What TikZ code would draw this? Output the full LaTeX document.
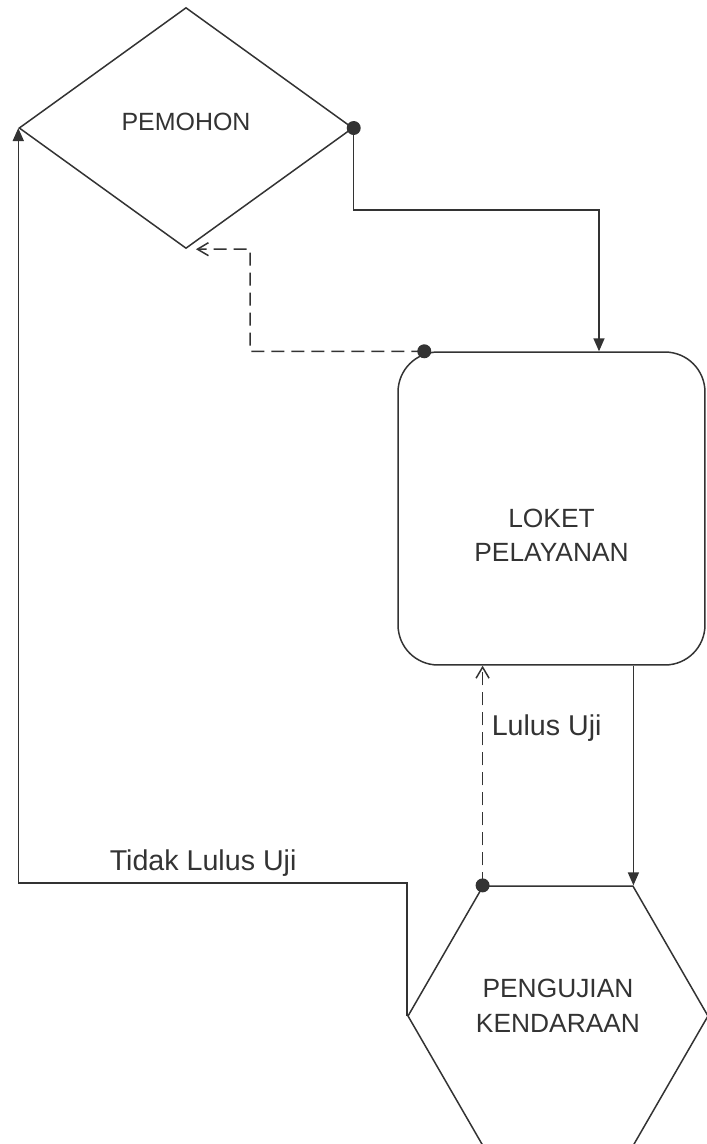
\documentclass[tikz,border=0pt]{standalone}
\usepackage{fontspec}
\setmainfont{Liberation Sans}
\usetikzlibrary{shapes.geometric,arrows.meta}
\begin{document}
\begin{tikzpicture}[x=0.02cm,y=-0.02cm,line width=0.03cm,color=black!80,
  every node/.style={inner sep=0pt,font=\fontsize{15}{19.9}\selectfont,align=center},
  pemohonbox/.style={draw,diamond,minimum width=6.68cm,minimum height=4.82cm,font=\fontsize{14.2}{19.9}\selectfont},
  loketbox/.style={draw,rectangle,rounded corners=0.8cm,minimum width=6.14cm,minimum height=6.26cm},
  ujibox/.style={draw,regular polygon,regular polygon sides=6,minimum size=6cm},
  flowlabel/.style={anchor=base west,font=\fontsize{16.3}{19.9}\selectfont},
  flow/.style={-{Triangle[length=0.26cm,width=0.22cm]}},
  back/.style={dash pattern=on 0.26cm off 0.14cm,-{Straight Barb[length=0.22cm,width=0.26cm]}}]
\useasboundingbox (0,0) rectangle (707,1144);
\node [pemohonbox] (pemohon) at (186,128) {\rule{0pt}{0.1cm}PEMOHON\rule[-0.25cm]{0pt}{0.1cm}};
\node [loketbox] (loket) at (551.5,508.5) {\rule{0pt}{1.44cm}LOKET\\PELAYANAN};
\node [ujibox] (uji) at (558,1016) {PENGUJIAN\\KENDARAAN\rule[-0.4cm]{0pt}{0.1cm}};
\coordinate (c1) at (599,210);
\coordinate (d1) at ([xshift=0.54cm]loket.north west);
\coordinate (d2) at (250,249);
\coordinate (t1) at (0,883);
\draw [flow] (pemohon.east) |- (c1) -- (c1 |- loket.north);
\fill (pemohon.east) circle (0.14cm);
\draw [back] (d1) -| (d2) -- ([xshift=0.2cm]pemohon.south);
\fill (d1) circle (0.14cm);
\draw [flow] (loket.south -| uji.60) -- (uji.60);
\draw [back] (uji.120) -- (uji.120 |- loket.south);
\fill (uji.120) circle (0.14cm);
\draw (491,735) node [flowlabel] (lulus) {Lulus Uji};
\draw [flow] (uji.180) |- (t1 -| pemohon.west) -- (pemohon.west);
\draw (109,870) node [flowlabel] (tidak) {Tidak Lulus Uji};
\end{tikzpicture}
\end{document}
